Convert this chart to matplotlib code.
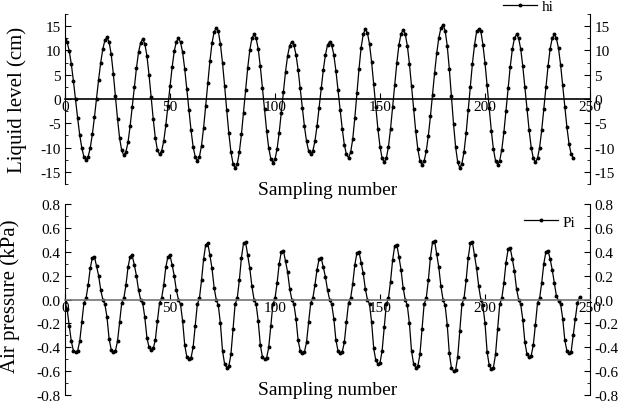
import numpy as np
import matplotlib
matplotlib.use('Agg')
import matplotlib.pyplot as plt
from matplotlib.ticker import MultipleLocator, AutoMinorLocator

# liquid level hi (cm), one value per sampling number
hi = [12.3, 11.7, 9.9, 7.2, 3.7, -0.1, -3.9, -7.4, -10.1, -11.9, -12.5,
      -11.9, -10.1, -7.3, -3.8, 0.1, 4.0, 7.5, 10.3, 12.1, 12.7,
      11.7, 9.2, 5.2, 0.6, -4.1, -8.1, -10.6, -11.6,
      -10.9, -8.9, -5.6, -1.7, 2.4, 6.3, 9.6, 11.6, 12.3,
      11.4, 8.9, 5.0, 0.5, -4.1, -8.0, -10.5, -11.4,
      -10.7, -8.7, -5.4, -1.5, 2.6, 6.5, 9.8, 11.8, 12.5,
      11.7, 9.6, 6.2, 2.0, -2.2, -6.4, -9.8, -11.9, -12.7,
      -11.9, -9.6, -5.9, -1.4, 3.3, 7.8, 11.5, 13.8, 14.6,
      13.9, 11.3, 7.4, 2.7, -2.3, -7.0, -10.9, -13.3, -14.2,
      -13.4, -11.0, -7.3, -2.8, 1.9, 6.4, 10.1, 12.5, 13.3,
      12.5, 10.3, 6.7, 2.3, -2.1, -6.5, -10.1, -12.3, -13.1,
      -12.4, -10.2, -6.9, -2.8, 1.5, 5.6, 8.9, 11.0, 11.8,
      11.1, 9.1, 6.0, 2.2, -1.8, -5.6, -8.7, -10.7, -11.4,
      -10.7, -8.7, -5.6, -1.8, 2.2, 6.0, 9.1, 11.1, 11.8,
      11.1, 9.1, 5.8, 1.9, -2.2, -6.1, -9.4, -11.4, -12.1,
      -11.0, -8.3, -3.9, 1.2, 6.2, 10.6, 13.3, 14.4,
      13.6, 11.3, 7.6, 3.0, -1.6, -6.2, -9.8, -12.2, -13.0,
      -12.2, -9.9, -6.2, -1.7, 2.9, 7.4, 11.1, 13.4, 14.2,
      13.4, 11.0, 7.3, 2.7, -2.0, -6.6, -10.3, -12.7, -13.5,
      -12.8, -10.8, -7.6, -3.6, 0.9, 5.4, 9.4, 12.6, 14.6, 15.3,
      14.1, 11.0, 6.2, 0.6, -5.1, -9.9, -13.0, -14.2,
      -13.3, -10.9, -7.1, -2.3, 2.5, 7.3, 11.1, 13.9, 14.4,
      14.0, 11.2, 7.4, 2.8, -1.9, -6.5, -10.3, -12.7, -13.5,
      -12.7, -10.4, -6.8, -2.4, 2.2, 6.6, 10.2, 12.5, 13.3,
      12.5, 10.3, 6.7, 2.4, -2.1, -6.4, -10.0, -12.2, -13.0,
      -12.2, -10.0, -6.4, -2.1, 2.4, 6.7, 10.3, 12.5, 13.3,
      12.5, 10.4, 7.0, 2.8, -1.6, -5.8, -9.2, -11.3, -12.1]

# air pressure Pi (kPa)
pi = [-0.02, -0.08, -0.22, -0.35, -0.43, -0.44,
      -0.43, -0.35, -0.19, -0.03, 0.01, 0.12, 0.26, 0.35, 0.36,
      0.28, 0.20, 0.08, 0.00, -0.04, -0.15, -0.33, -0.42, -0.44,
      -0.43, -0.35, -0.19, -0.03, 0.01, 0.12, 0.27, 0.36, 0.37,
      0.29, 0.20, 0.08, 0.00, -0.03, -0.15, -0.32, -0.40, -0.42,
      -0.41, -0.34, -0.18, -0.03, 0.01, 0.12, 0.27, 0.36, 0.37,
      0.29, 0.20, 0.08, 0.00, -0.04, -0.18, -0.38, -0.48, -0.50,
      -0.49, -0.40, -0.22, -0.04, 0.01, 0.16, 0.34, 0.46, 0.47,
      0.37, 0.26, 0.10, 0.00, -0.05, -0.20, -0.43, -0.54, -0.57,
      -0.56, -0.46, -0.25, -0.04, 0.01, 0.16, 0.35, 0.47, 0.48,
      0.37, 0.26, 0.11, 0.00, -0.04, -0.18, -0.38, -0.48, -0.50,
      -0.49, -0.40, -0.22, -0.04, 0.01, 0.14, 0.30, 0.40, 0.41,
      0.32, 0.23, 0.09, 0.00, -0.04, -0.16, -0.34, -0.43, -0.45,
      -0.44, -0.36, -0.19, -0.03, 0.01, 0.12, 0.25, 0.34, 0.35,
      0.27, 0.19, 0.08, 0.00, -0.04, -0.16, -0.34, -0.43, -0.45,
      -0.44, -0.36, -0.19, -0.03, 0.01, 0.13, 0.29, 0.39, 0.40,
      0.31, 0.22, 0.09, 0.00, -0.04, -0.19, -0.41, -0.51, -0.54,
      -0.53, -0.43, -0.23, -0.04, 0.01, 0.15, 0.33, 0.45, 0.46,
      0.36, 0.25, 0.10, 0.00, -0.05, -0.20, -0.43, -0.54, -0.57,
      -0.56, -0.46, -0.25, -0.04, 0.01, 0.16, 0.35, 0.48, 0.49,
      0.38, 0.27, 0.11, 0.00, -0.05, -0.21, -0.45, -0.57, -0.60,
      -0.59, -0.48, -0.26, -0.04, 0.01, 0.16, 0.35, 0.47, 0.48,
      0.37, 0.26, 0.11, 0.00, -0.05, -0.20, -0.44, -0.55, -0.58,
      -0.57, -0.46, -0.25, -0.04, 0.01, 0.14, 0.31, 0.42, 0.43,
      0.34, 0.24, 0.09, 0.00, -0.04, -0.17, -0.36, -0.46, -0.48,
      -0.47, -0.38, -0.21, -0.03, 0.01, 0.14, 0.30, 0.40, 0.41,
      0.34, 0.25, 0.14, 0.03, -0.01, -0.04, -0.16, -0.34, -0.43, -0.45,
      -0.44, -0.30, -0.16, -0.03, 0.02]

x_ticks = [0, 50, 100, 150, 200, 250]

plt.rcParams['font.family'] = 'Liberation Serif'
plt.rcParams['axes.unicode_minus'] = False

fig = plt.figure(figsize=(6.21, 4.02), dpi=100)
ax1 = fig.add_axes([0.1047, 0.5398, 0.8454, 0.4229])
ax2 = fig.add_axes([0.1047, 0.0149, 0.8454, 0.4751])


def style(ax, zero_color):
    ax.spines['top'].set_visible(False)
    ax.spines['bottom'].set_position(('data', 0))
    ax.spines['bottom'].set_color(zero_color)
    ax.spines['bottom'].set_linewidth(1.2)
    ax.set_xlim(0, 250)
    ax.set_xticks(x_ticks)
    ax.yaxis.set_minor_locator(AutoMinorLocator(2))
    ax.tick_params(axis='y', which='both', direction='in', left=True,
                   right=True, labelright=True, labelsize=11, pad=3)
    ax.tick_params(axis='y', which='major', length=4.5)
    ax.tick_params(axis='y', which='minor', length=2.5)
    ax.tick_params(axis='x', direction='in', length=4, labelsize=11, pad=1,
                   color='black')


hx = np.arange(len(hi))
ax1.plot(hx, hi, color='black', lw=0.9, marker='o', ms=1.8, label='hi')
ax1.set_ylim(-17.5, 17.5)
ax1.yaxis.set_major_locator(MultipleLocator(5))
style(ax1, 'black')
ax1.set_ylabel('Liquid level (cm)', fontsize=15)
ax1.yaxis.set_label_coords(-0.072, 0.5)
ax1.set_xlabel('Sampling number', fontsize=14)
ax1.xaxis.set_label_coords(0.5, 0.02)
ax1.legend(loc='center right', bbox_to_anchor=(0.93, 1.047), frameon=False,
           fontsize=11, handlelength=2.2, handletextpad=0.3,
           borderaxespad=0, borderpad=0)

px = np.arange(len(pi))
ax2.plot(px, pi, color='black', lw=0.9, marker='o', ms=1.8, label='Pi')
ax2.set_ylim(-0.8, 0.8)
ax2.yaxis.set_major_locator(MultipleLocator(0.2))
ax2.yaxis.set_major_formatter(plt.FormatStrFormatter('%.1f'))
style(ax2, '0.45')
ax2.set_ylabel('Air pressure (kPa)', fontsize=15)
ax2.yaxis.set_label_coords(-0.086, 0.52)
ax2.set_xlabel('Sampling number', fontsize=14)
ax2.xaxis.set_label_coords(0.5, 0.075)
ax2.legend(loc='center right', bbox_to_anchor=(0.972, 0.906), frameon=False,
           fontsize=11, handlelength=2.2, handletextpad=0.3,
           borderaxespad=0, borderpad=0)

fig.savefig('out.png', dpi=100)
